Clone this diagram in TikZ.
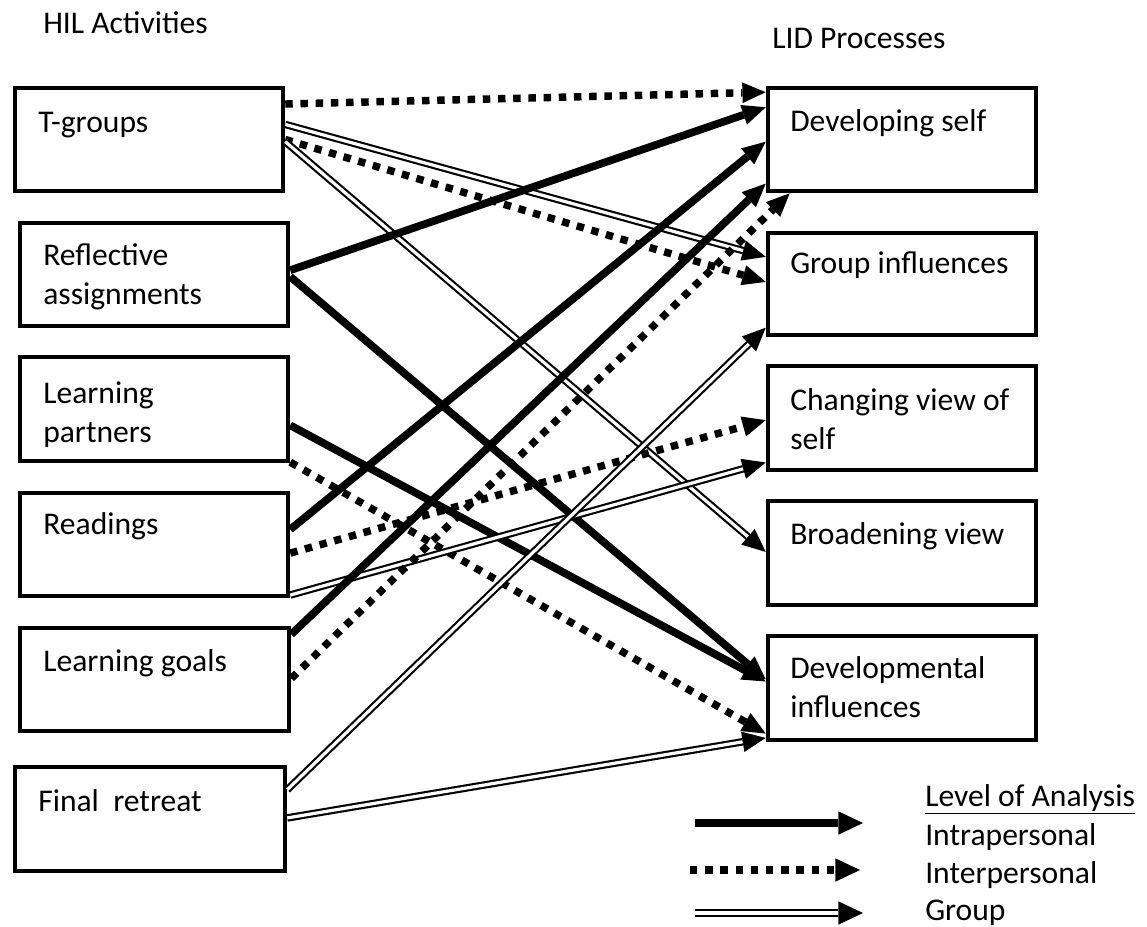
\documentclass[tikz,border=0pt]{standalone}
\usepackage{fontspec}
\setmainfont{Carlito}
\usetikzlibrary{arrows.meta,calc,fit}
\newcommand\twolines[2]{\begin{tabular}[t]{@{}l@{}}#1\\#2\end{tabular}}
\begin{document}
\begin{tikzpicture}[x=0.75pt,y=-0.75pt,
  box/.style={draw,line width=3.4pt,inner sep=0pt},
  lbl/.style={anchor=base west,inner sep=0pt,font=\fontsize{23.7}{29.25}\selectfont},
  tipd/.style={-{Triangle[length=17.5pt,width=15.5pt,line width=0pt]}},
  tipl/.style={-{Triangle[length=18.5pt,width=17.5pt,line width=0pt]}},
  intra/.style={line width=5.8pt,tipd},
  inter/.style={line width=5.6pt,dash pattern=on 5.6pt off 5.8pt,tipd},
  grp/.style={line width=1.6pt,double,double distance=2.4pt,tipd},
  legintra/.style={line width=5.8pt,tipl},
  leginter/.style={line width=5.6pt,dash pattern=on 5.6pt off 5.8pt,tipl},
  leggrp/.style={line width=1.6pt,double,double distance=2.4pt,tipl},
]
\useasboundingbox (0,0) rectangle (1147,926);

% headers
\node[lbl] (hil) at (43,33) {HIL Activities};
\node[lbl] (lid) at (772,48) {LID Processes};

% left boxes
\node[box, fit={(15,88)(283,191)}] (ts) {};
\node[box, fit={(20,223)(288,326)}] (ra) {};
\node[box, fit={(20,357)(288,461)}] (lp) {};
\node[box, fit={(20,493)(288,596)}] (rd) {};
\node[box, fit={(20,628)(289,731)}] (lg) {};
\node[box, fit={(15,767)(285,871)}] (fr) {};
% right boxes
\node[box, fit={(768,88)(1036,191)}] (ds) {};
\node[box, fit={(768,233)(1036,335)}] (gi) {};
\node[box, fit={(768,366)(1036,470)}] (cv) {};
\node[box, fit={(768,501)(1036,605)}] (bv) {};
\node[box, fit={(768,636)(1036,740)}] (di) {};

% box texts
\node[lbl] (tst) at (38,132) {T-groups};
\node[lbl] (rat) at (43,265) {\twolines{Reflective}{assignments}};
\node[lbl] (lpt) at (43,403) {\twolines{Learning}{partners}};
\node[lbl] (rdt) at (43,534) {Readings};
\node[lbl] (lgt) at (43,671) {Learning goals};
\node[lbl] (frt) at (38,811) {Final\ \ retreat};
\node[lbl] (dst) at (790,131) {Developing self};
\node[lbl] (git) at (790,273) {Group influences};
\node[lbl] (cvt) at (790,410) {\twolines{Changing view of}{self}};
\node[lbl] (bvt) at (790,544) {Broadening view};
\node[lbl] (dit) at (790,678) {\twolines{Developmental}{influences}};

% connectors
\draw[inter] ($(ts.north east)!.17!(ts.south east)$) -- ($(ds.north west)!.06!(ds.south west)$);
\draw[grp]   ($(ts.north east)!.36!(ts.south east)$) -- ($(gi.north west)!.245!(gi.south west)$);
\draw[inter] ($(ts.north east)!.50!(ts.south east)$) -- ($(gi.north west)!.48!(gi.south west)$);
\draw[grp]   ($(ts.north east)!.52!(ts.south east)$) -- ($(bv.north west)!.49!(bv.south west)$);
\draw[intra] ($(ra.north east)!.46!(ra.south east)$) -- ($(ds.north west)!.20!(ds.south west)$);
\draw[intra] ($(ra.north east)!.52!(ra.south east)$) -- ($(di.north west)!.42!(di.south west)$);
\draw[intra] ($(lp.north east)!.65!(lp.south east)$) -- ($(di.north west)!.44!(di.south west)$);
\draw[inter] ($(lp.north east)!.99!(lp.south east)$) -- ($(di.north west)!.92!(di.south west)$);
\draw[intra] ($(rd.north east)!.36!(rd.south east)$) -- ($(ds.north west)!.52!(ds.south west)$);
\draw[inter] ($(rd.north east)!.58!(rd.south east)$) -- ($(cv.north west)!.52!(cv.south west)$);
\draw[grp]   ($(rd.north east)!.97!(rd.south east)$) -- ($(cv.north west)!.91!(cv.south west)$);
\draw[intra] ($(lg.north east)!.08!(lg.south east)$) -- ($(ds.north west)!.91!(ds.south west)$);
\draw[inter] ($(lg.north east)!.49!(lg.south east)$) -- ($(ds.south west)!.088!(ds.south east)$);
\draw[grp]   ($(fr.north east)!.23!(fr.south east)$) -- ($(gi.north west)!.91!(gi.south west)$);
\draw[grp]   ($(fr.north east)!.49!(fr.south east)$) -- ($(di.north west)!.96!(di.south west)$);

% legend
\node[lbl] (lgh) at (925,806) {\underline{Level of Analysis}};
\node[lbl] (lg1) at (925,845) {Intrapersonal};
\node[lbl] (lg2) at (925,883) {Interpersonal};
\node[lbl] (lg3) at (925,920) {Group};
\coordinate (l1a) at (695,823); \coordinate (l1b) at (863,823);
\coordinate (l2a) at (690,870); \coordinate (l2b) at (860,870);
\coordinate (l3a) at (695,913); \coordinate (l3b) at (863,913);
\draw[legintra] (l1a) -- (l1b);
\draw[leginter] (l2a) -- (l2b);
\draw[leggrp] (l3a) -- (l3b);
\end{tikzpicture}
\end{document}
